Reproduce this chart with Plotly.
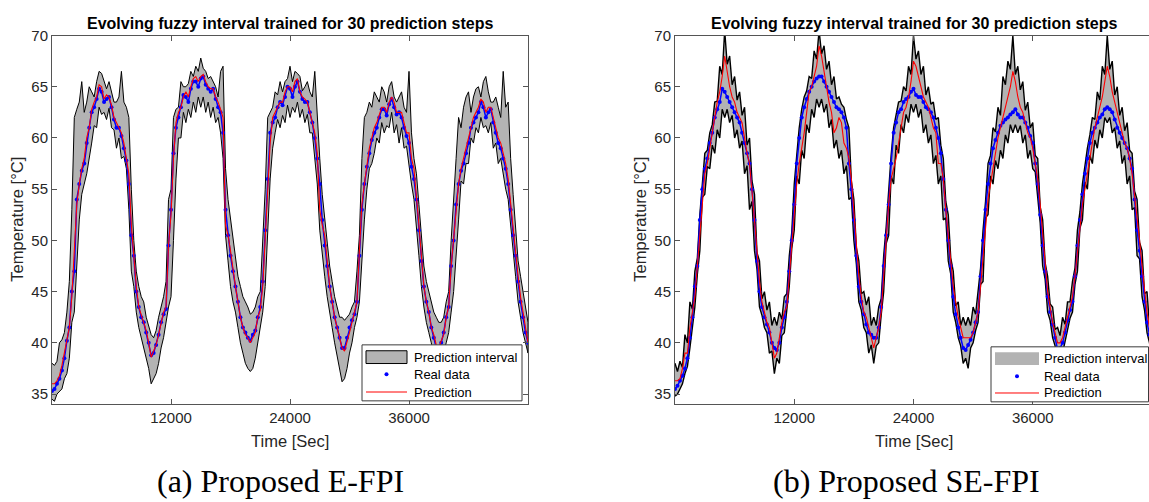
import plotly.graph_objects as go

# sample times [s], every 250 s
time_s = [0, 250, 500, 750, 1000, 1250, 1500, 1750, 2000, 2250, 2500, 2750, 3000, 3250, 3500, 3750,
          4000, 4250, 4500, 4750, 5000, 5250, 5500, 5750, 6000, 6250, 6500, 6750, 7000, 7250, 7500, 7750,
          8000, 8250, 8500, 8750, 9000, 9250, 9500, 9750, 10000, 10250, 10500, 10750, 11000, 11250, 11500,
          11750, 12000, 12250, 12500, 12750, 13000, 13250, 13500, 13750, 14000, 14250, 14500, 14750, 15000,
          15250, 15500, 15750, 16000, 16250, 16500, 16750, 17000, 17250, 17500, 17750, 18000, 18250, 18500,
          18750, 19000, 19250, 19500, 19750, 20000, 20250, 20500, 20750, 21000, 21250, 21500, 21750, 22000,
          22250, 22500, 22750, 23000, 23250, 23500, 23750, 24000, 24250, 24500, 24750, 25000, 25250, 25500,
          25750, 26000, 26250, 26500, 26750, 27000, 27250, 27500, 27750, 28000, 28250, 28500, 28750, 29000,
          29250, 29500, 29750, 30000, 30250, 30500, 30750, 31000, 31250, 31500, 31750, 32000, 32250, 32500,
          32750, 33000, 33250, 33500, 33750, 34000, 34250, 34500, 34750, 35000, 35250, 35500, 35750, 36000,
          36250, 36500, 36750, 37000, 37250, 37500, 37750, 38000, 38250, 38500, 38750, 39000, 39250, 39500,
          39750, 40000, 40250, 40500, 40750, 41000, 41250, 41500, 41750, 42000, 42250, 42500, 42750, 43000,
          43250, 43500, 43750, 44000, 44250, 44500, 44750, 45000, 45250, 45500, 45750, 46000, 46250, 46500,
          46750, 47000, 47250, 47500, 47750, 48000]

# ---------- (a) Proposed E-FPI ----------
real_a = [35.3, 35.5, 36.0, 36.5, 37.3, 38.5, 40.2, 41.5, 45.0, 47.0, 54.0, 55.5, 56.8, 57.5, 59.5, 61.0,
          62.5, 63.0, 63.8, 64.8, 64.5, 63.5, 63.8, 64.0, 63.0, 61.8, 61.0, 61.0, 60.2, 59.0, 57.8, 55.5,
          50.5, 48.5, 45.0, 43.5, 42.5, 42.0, 41.0, 40.0, 38.8, 39.0, 39.8, 40.8, 42.0, 42.8, 43.3,
          49.5, 53.0, 58.5, 61.0, 62.0, 63.0, 64.2, 64.0, 63.5, 64.8, 65.5, 65.5, 65.0, 65.8,
          66.0, 65.2, 64.8, 64.5, 64.8, 63.8, 63.0, 62.5, 60.5, 53.0, 50.5, 48.5, 47.0, 45.5,
          44.0, 42.5, 41.5, 41.0, 40.5, 40.2, 40.8, 41.2, 42.5, 43.5, 46.0, 51.0, 56.0, 60.5,
          61.5, 62.0, 63.0, 63.5, 63.2, 64.0, 65.0, 64.8, 64.0, 65.0, 65.5, 64.5, 63.8, 63.5,
          63.5, 62.5, 61.5, 60.0, 58.0, 55.5, 52.0, 49.5, 47.5, 45.5, 44.0, 42.5, 41.5, 40.5,
          39.5, 39.5, 40.5, 41.5, 42.2, 42.8, 44.0, 48.5, 53.0, 55.5, 57.2, 58.5, 59.8, 60.5,
          61.0, 62.0, 62.8, 62.8, 62.2, 63.3, 63.8, 63.0, 62.3, 62.5, 62.0, 61.0, 60.2, 59.5,
          57.2, 56.0, 54.0, 51.0, 48.0, 45.5, 44.0, 43.0, 41.5, 40.5, 39.5, 39.5, 40.0, 41.0,
          42.5, 43.5, 47.5, 50.0, 53.5, 55.5, 56.8, 57.5, 58.5, 59.5, 61.0, 61.5, 62.0, 62.5,
          63.5, 63.0, 62.0, 62.5, 62.8, 61.5, 60.5, 59.5, 59.0, 58.0, 57.0, 55.5, 53.0, 50.5,
          48.5, 46.0, 44.0, 42.5, 41.0, 40.0]
pred_a = [36.0, 36.0, 36.3, 36.8, 37.8, 39.0, 40.5, 41.5, 44.5, 48.5, 53.5, 55.5, 57.0, 58.0, 60.0, 61.0,
          62.8, 63.5, 64.0, 65.2, 65.0, 63.8, 64.2, 64.0, 63.2, 62.0, 61.5, 61.0, 60.5, 59.5, 58.0, 56.5,
          51.5, 48.5, 45.5, 43.5, 42.8, 42.0, 41.2, 40.0, 38.6, 39.2, 39.8, 40.8, 42.0, 43.0, 43.5,
          49.5, 52.5, 58.0, 61.5, 62.5, 63.0, 64.0, 64.5, 64.0, 65.0, 65.8, 66.0, 65.5, 66.0,
          66.2, 65.5, 65.0, 64.8, 64.8, 64.0, 63.5, 62.8, 62.0, 51.5, 50.5, 49.0, 47.0, 45.5,
          44.0, 42.5, 41.5, 40.8, 40.5, 40.0, 40.5, 41.0, 42.5, 43.2, 45.5, 50.5, 55.0, 59.5,
          62.0, 62.5, 63.0, 63.5, 63.5, 64.5, 65.0, 65.0, 64.5, 65.5, 65.8, 64.5, 64.0, 63.8,
          63.5, 62.5, 61.5, 60.5, 58.5, 53.0, 51.5, 50.5, 48.0, 45.5, 44.0, 42.5, 41.5, 40.5,
          39.5, 39.2, 40.0, 41.0, 42.0, 43.0, 44.0, 49.0, 53.5, 55.5, 57.5, 59.0, 60.0, 61.0,
          61.5, 62.3, 63.0, 63.0, 62.5, 63.5, 64.0, 63.5, 62.5, 62.5, 62.5, 61.5, 60.5, 60.5,
          58.0, 57.0, 54.5, 51.5, 48.5, 45.5, 44.0, 43.0, 41.5, 40.8, 39.8, 39.5, 40.2, 40.8,
          42.5, 43.5, 47.5, 50.0, 53.0, 55.5, 57.0, 58.0, 59.0, 60.0, 61.0, 62.0, 62.5, 63.0,
          63.8, 63.5, 62.5, 63.0, 63.0, 62.0, 61.0, 60.0, 59.5, 58.5, 57.5, 56.0, 53.5, 51.0,
          49.0, 46.5, 44.5, 43.0, 41.5, 40.0]
upper_a = [38.0, 37.8, 38.2, 40.0, 40.3, 41.0, 43.0, 46.0, 53.0, 62.0, 62.8, 63.5, 65.5, 62.5, 63.5, 65.0,
           64.5, 64.0, 65.5, 66.5, 66.3, 65.5, 64.8, 65.5, 64.5, 63.5, 63.5, 64.0, 66.5, 63.5, 63.0, 62.0,
           55.0, 50.0, 47.0, 45.5, 44.5, 44.0, 42.5, 41.5, 40.8, 40.5, 41.2, 42.5, 43.5, 44.5, 46.0,
           54.0, 55.0, 62.0, 62.8, 63.0, 65.5, 65.0, 65.0, 65.3, 66.5, 66.0, 67.0, 66.5, 67.8,
           66.8, 66.5, 65.8, 66.0, 65.5, 65.0, 64.0, 66.5, 67.0, 57.0, 54.0, 52.0, 50.0, 48.0,
           46.5, 45.5, 44.5, 44.0, 43.5, 42.8, 43.0, 43.5, 44.5, 45.0, 50.0, 55.0, 62.0, 62.5,
           63.0, 64.5, 64.2, 65.5, 64.5, 65.5, 65.8, 67.0, 65.5, 66.5, 66.3, 66.0, 64.6, 65.0,
           65.5, 64.5, 64.0, 66.5, 62.0, 58.0, 54.5, 52.0, 49.5, 47.5, 46.0, 44.5, 43.5, 42.5,
           42.5, 42.2, 42.5, 42.8, 43.5, 44.0, 47.0, 50.5, 58.0, 62.0, 62.5, 63.5, 63.0, 64.5,
           64.0, 63.5, 65.0, 64.5, 63.5, 65.0, 65.5, 64.0, 63.5, 64.0, 64.5, 63.0, 62.5, 66.5,
           60.5, 58.0, 56.5, 53.5, 50.0, 47.5, 46.0, 45.0, 44.0, 43.0, 42.5, 42.0, 42.0, 42.5,
           44.0, 45.0, 50.0, 54.5, 58.0, 62.0, 61.0, 63.0, 64.0, 64.5, 62.5, 64.0, 64.8, 65.0,
           64.0, 65.5, 66.0, 64.5, 63.5, 63.5, 64.0, 63.0, 62.0, 66.5, 63.0, 63.5, 58.0, 54.5,
           51.0, 48.0, 46.5, 45.0, 43.5, 42.0]
lower_a = [34.5, 34.3, 35.0, 35.2, 35.5, 36.5, 37.0, 38.5, 42.0, 43.0, 47.5, 52.0, 54.5, 55.5, 56.5, 58.0,
           59.5, 61.2, 61.0, 63.0, 62.3, 62.5, 61.8, 62.9, 61.0, 60.8, 59.0, 60.0, 58.0, 58.2, 57.0, 53.0,
           47.0, 45.5, 43.0, 41.5, 40.5, 39.5, 38.5, 37.5, 36.0, 36.5, 37.0, 38.0, 39.5, 40.5, 42.0,
           43.5, 44.5, 50.0, 56.0, 60.0, 60.0, 62.5, 61.5, 62.8, 62.0, 63.5, 62.5, 64.0, 63.0,
           64.0, 62.5, 63.5, 62.0, 63.0, 61.5, 62.0, 60.5, 58.0, 50.5, 48.0, 45.5, 44.0, 43.0,
           41.5, 40.0, 39.0, 38.0, 37.5, 37.2, 37.5, 38.5, 40.0, 41.5, 43.0, 45.5, 51.0, 56.0,
           59.0, 60.5, 61.8, 61.0, 62.2, 61.5, 63.2, 62.0, 63.0, 62.5, 63.5, 62.0, 62.8, 61.5,
           62.3, 60.5, 60.5, 58.0, 55.5, 51.0, 48.5, 46.5, 44.5, 43.0, 41.5, 40.0, 38.5, 37.5,
           36.2, 36.5, 37.5, 39.0, 40.0, 41.5, 42.5, 44.0, 48.0, 52.0, 55.0, 57.0, 57.5, 58.5,
           60.0, 59.5, 61.5, 60.5, 61.2, 61.0, 62.5, 60.5, 61.3, 59.5, 61.0, 59.0, 59.2, 57.5,
           55.5, 54.0, 51.5, 48.5, 45.5, 43.5, 42.0, 41.0, 40.0, 38.5, 38.0, 38.0, 38.2, 39.0,
           40.0, 41.0, 43.0, 45.0, 48.5, 52.0, 55.8, 55.5, 57.5, 57.5, 60.0, 59.5, 61.0, 60.5,
           62.0, 61.0, 61.2, 60.5, 61.5, 59.0, 59.5, 57.5, 58.0, 56.5, 55.0, 54.0, 51.5, 49.0,
           46.5, 44.0, 42.5, 41.0, 40.0, 39.0]

# ---------- (b) Proposed SE-FPI ----------
real_b = [35.5, 35.8, 36.3, 36.8, 37.5, 38.5, 40.5, 42.5, 45.5, 47.5, 52.0, 55.0, 57.0, 58.0, 59.5, 60.5,
          62.0, 62.8, 63.5, 64.8, 64.5, 64.0, 63.5, 63.0, 62.5, 62.0, 61.5, 60.5, 59.5, 58.5, 57.5, 55.0,
          52.0, 48.0, 45.0, 43.5, 42.5, 41.8, 41.0, 40.0, 39.5, 39.3, 40.0, 41.5, 42.5, 44.0, 47.0,
          50.0, 53.5, 57.5, 60.0, 62.0, 63.0, 63.8, 64.5, 65.0, 65.5, 65.8, 66.0, 66.0, 65.5,
          65.0, 64.5, 64.0, 63.5, 63.0, 62.8, 62.5, 62.0, 61.0, 57.5, 55.0, 52.0, 48.5, 45.5,
          44.0, 42.8, 41.8, 41.0, 40.8, 40.5, 40.5, 41.5, 43.5, 47.5, 50.5, 53.5, 57.5, 60.5,
          61.5, 62.5, 62.8, 63.5, 63.8, 64.0, 64.5, 64.8, 64.2, 64.0, 64.0, 63.5, 63.0, 62.8,
          62.5, 62.0, 61.0, 60.0, 58.5, 56.0, 53.0, 50.0, 47.5, 44.5, 42.8, 41.5, 40.5, 39.5,
          39.3, 39.8, 40.3, 41.0, 42.0, 43.0, 46.5, 50.0, 53.0, 55.5, 57.5, 59.0, 59.8, 60.5,
          61.2, 61.5, 61.8, 62.0, 62.3, 62.5, 62.8, 62.3, 62.0, 62.0, 61.5, 61.0, 60.2, 59.5,
          57.5, 55.5, 52.5, 49.5, 47.0, 44.5, 43.0, 41.8, 40.5, 39.3, 39.5, 40.0, 41.0, 42.2,
          43.2, 44.0, 46.5, 49.5, 52.0, 54.5, 56.5, 58.0, 59.5, 60.5, 61.0, 61.5, 62.0, 62.3,
          62.8, 63.0, 62.8, 62.5, 61.8, 61.0, 60.5, 60.0, 59.5, 59.0, 58.0, 57.0, 54.0, 51.0,
          49.0, 46.5, 44.0, 42.0, 40.8, 39.5]
pred_b = [36.3, 36.3, 36.5, 37.5, 39.0, 39.0, 41.5, 43.0, 44.5, 47.5, 50.5, 53.5, 56.5, 57.5, 59.0, 60.5,
          62.0, 63.5, 64.5, 66.0, 68.0, 66.5, 65.0, 64.0, 63.5, 62.5, 62.0, 61.5, 60.0, 58.5, 57.5, 55.0,
          52.0, 49.0, 46.0, 44.0, 43.0, 42.0, 41.5, 40.0, 38.5, 39.0, 40.5, 42.0, 43.0, 43.5, 46.5,
          49.5, 53.0, 55.5, 57.5, 59.0, 60.5, 62.5, 64.5, 65.0, 66.0, 67.0, 69.0, 68.0, 66.5,
          65.0, 63.5, 62.5, 60.5, 61.0, 62.0, 61.5, 59.5, 59.0, 58.0, 56.0, 53.0, 49.5, 46.5,
          44.5, 43.0, 42.5, 41.5, 40.5, 39.5, 40.5, 41.5, 43.0, 47.0, 50.0, 53.5, 56.0, 57.0,
          58.0, 59.5, 61.0, 62.5, 63.0, 64.0, 65.5, 67.5, 67.0, 66.0, 65.0, 64.0, 63.5, 63.0,
          62.0, 61.0, 60.5, 57.5, 57.5, 56.0, 53.0, 50.5, 48.0, 45.5, 44.0, 42.5, 41.5, 40.5,
          40.5, 40.5, 40.5, 41.0, 42.0, 43.0, 45.5, 48.5, 51.5, 54.0, 55.5, 57.0, 58.5, 60.0,
          61.0, 62.0, 63.0, 64.0, 65.0, 66.5, 65.5, 64.0, 63.0, 62.5, 61.5, 60.5, 60.0, 59.0,
          57.5, 56.0, 53.5, 50.5, 47.5, 45.0, 43.5, 42.0, 41.0, 40.0, 40.0, 40.5, 41.5, 42.5,
          43.5, 44.5, 46.5, 49.0, 51.0, 53.5, 55.0, 56.5, 58.0, 59.5, 61.0, 62.0, 63.0, 64.0,
          65.5, 67.0, 66.0, 64.5, 63.5, 62.5, 61.5, 60.5, 59.5, 59.0, 58.0, 56.5, 54.5, 52.0,
          50.0, 47.5, 45.0, 43.0, 41.5, 40.5]
upper_b = [38.0, 37.2, 38.2, 37.6, 40.8, 40.0, 44.0, 43.3, 47.0, 48.3, 52.5, 55.8, 58.5, 58.8, 60.5, 61.3,
           63.5, 63.6, 67.0, 66.2, 70.5, 67.2, 68.0, 65.2, 66.0, 63.7, 64.5, 62.2, 63.0, 59.3, 60.0, 55.8,
           54.5, 48.8, 48.0, 44.3, 45.0, 43.2, 44.0, 41.7, 42.5, 41.7, 43.0, 42.3, 44.5, 44.8, 48.5,
           50.8, 55.5, 58.3, 61.0, 62.8, 64.0, 64.6, 66.0, 65.8, 68.5, 67.7, 70.5, 68.2, 69.0,
           66.7, 67.5, 65.2, 66.0, 63.8, 64.0, 63.3, 63.0, 61.8, 61.0, 55.8, 54.0, 49.3, 48.0,
           44.8, 45.0, 43.7, 44.5, 41.7, 42.5, 41.7, 43.5, 44.3, 48.5, 51.3, 55.0, 58.3, 61.0,
           62.3, 63.5, 63.6, 65.0, 64.6, 67.0, 66.2, 70.0, 67.7, 68.5, 66.2, 67.0, 64.2, 65.0,
           63.3, 63.5, 61.8, 62.0, 59.3, 58.0, 53.8, 52.5, 48.3, 47.0, 43.6, 44.0, 41.7, 42.5,
           41.7, 42.5, 41.7, 43.5, 42.8, 45.0, 47.3, 51.0, 53.8, 57.5, 58.3, 61.0, 60.6, 63.0,
           62.2, 66.0, 65.2, 67.5, 66.7, 70.0, 66.2, 67.0, 64.7, 65.5, 62.7, 63.5, 61.0, 61.5,
           58.3, 58.0, 53.3, 52.0, 47.8, 46.5, 43.8, 43.5, 41.3, 41.5, 40.7, 42.5, 41.8, 44.0,
           44.0, 46.0, 47.3, 51.0, 52.8, 55.5, 57.3, 59.0, 60.3, 62.0, 61.8, 64.5, 63.7, 67.0,
           66.2, 70.0, 66.7, 67.5, 64.2, 65.0, 62.2, 63.0, 60.7, 61.5, 58.8, 58.5, 54.8, 54.0,
           49.8, 49.0, 44.8, 45.0, 41.7, 42.5]
lower_b = [34.8, 35.0, 35.5, 36.0, 37.0, 37.7, 39.5, 41.7, 43.5, 46.7, 49.0, 54.2, 54.5, 57.2, 57.0, 59.3,
           58.5, 60.8, 60.0, 62.8, 62.0, 62.8, 61.5, 62.2, 60.0, 60.8, 59.0, 59.7, 56.5, 57.3, 53.0, 53.8,
           49.0, 47.2, 43.5, 42.7, 41.5, 41.0, 39.0, 39.2, 37.0, 38.5, 38.0, 40.7, 41.0, 43.2, 45.5,
           49.2, 51.0, 56.3, 55.5, 58.8, 58.0, 61.3, 60.5, 62.8, 62.0, 63.8, 63.0, 63.8, 62.5,
           63.3, 61.0, 61.8, 59.0, 59.8, 58.0, 58.8, 56.5, 57.3, 54.0, 54.2, 50.0, 47.7, 44.0,
           43.2, 41.5, 41.0, 39.0, 39.8, 38.0, 39.7, 40.0, 42.7, 45.0, 49.7, 50.5, 56.3, 55.5,
           59.3, 58.5, 61.3, 60.5, 62.3, 61.5, 63.3, 62.5, 63.3, 62.0, 62.8, 60.5, 61.3, 59.5,
           60.3, 57.5, 58.3, 55.5, 56.3, 52.0, 52.2, 48.0, 46.7, 43.0, 42.0, 40.5, 39.7, 38.0,
           38.5, 37.5, 39.5, 40.0, 41.2, 42.0, 45.7, 46.0, 52.2, 52.5, 56.3, 55.5, 57.8, 57.0,
           58.8, 58.0, 60.3, 59.5, 61.3, 60.5, 61.3, 60.5, 61.2, 59.5, 60.3, 58.0, 58.8, 57.0,
           56.7, 54.0, 51.7, 47.5, 46.2, 43.0, 42.2, 40.5, 39.7, 38.5, 38.7, 39.0, 40.2, 41.5,
           42.4, 43.0, 45.7, 47.0, 51.2, 52.0, 55.7, 55.0, 58.3, 57.5, 59.8, 59.0, 60.8, 60.0,
           62.0, 61.5, 62.0, 60.5, 61.0, 59.0, 59.7, 57.5, 58.3, 55.5, 56.3, 53.0, 53.2, 48.5,
           48.2, 44.5, 43.2, 41.0, 40.0, 38.5]

for _name, _arr in [("real_a", real_a), ("pred_a", pred_a), ("upper_a", upper_a), ("lower_a", lower_a),
                    ("real_b", real_b), ("pred_b", pred_b), ("upper_b", upper_b), ("lower_b", lower_b)]:
    assert len(_arr) == len(time_s), (_name, len(_arr), len(time_s))

y_ticks = [35, 40, 45, 50, 55, 60, 65, 70]
x_ticks = [12000, 24000, 36000]
x_tick_text = ["12000", "24000", "36000"]
title_text = "Evolving fuzzy interval trained for 30 prediction steps"
captions = ["(a) Proposed E-FPI", "(b) Proposed SE-FPI"]
legend_names = ["Prediction interval", "Real data", "Prediction"]

W, H = 1149, 502
def px(x):
    return x / W
def py(y):
    return 1 - y / H

BAND = "#b3b3b3"
SANS = "Liberation Sans, Arial, sans-serif"
AXC = "#262626"

fig = go.Figure()

# ---- panel a ----
fig.add_trace(go.Scatter(x=time_s + time_s[::-1], y=upper_a + lower_a[::-1], fill="toself",
                         fillcolor=BAND, mode="lines", line=dict(color="black", width=1),
                         name=legend_names[0], xaxis="x", yaxis="y", showlegend=False))
fig.add_trace(go.Scatter(x=time_s, y=real_a, mode="lines+markers", marker=dict(color="blue", size=4),
                         line=dict(color="blue", width=1.5),
                         name=legend_names[1], xaxis="x", yaxis="y", showlegend=False))
fig.add_trace(go.Scatter(x=time_s, y=pred_a, mode="lines", line=dict(color="red", width=1.1),
                         name=legend_names[2], xaxis="x", yaxis="y", showlegend=False))

# ---- panel b ----
fig.add_trace(go.Scatter(x=time_s + time_s[::-1], y=upper_b + lower_b[::-1], fill="toself",
                         fillcolor=BAND, mode="lines", line=dict(color=BAND, width=0),
                         name=legend_names[0], xaxis="x2", yaxis="y2", showlegend=False))
fig.add_trace(go.Scatter(x=time_s, y=upper_b, mode="lines", line=dict(color="black", width=1.4),
                         showlegend=False, xaxis="x2", yaxis="y2"))
fig.add_trace(go.Scatter(x=time_s, y=lower_b, mode="lines", line=dict(color="black", width=1.4),
                         showlegend=False, xaxis="x2", yaxis="y2"))
fig.add_trace(go.Scatter(x=time_s, y=real_b, mode="lines+markers", marker=dict(color="blue", size=4),
                         line=dict(color="blue", width=1.5),
                         name=legend_names[1], xaxis="x2", yaxis="y2", showlegend=False))
fig.add_trace(go.Scatter(x=time_s, y=pred_b, mode="lines", line=dict(color="red", width=1.1),
                         name=legend_names[2], xaxis="x2", yaxis="y2", showlegend=False))

ax_common = dict(showgrid=False, zeroline=False, showline=True, linecolor="#555555", linewidth=1,
                 ticks="inside", ticklen=5, tickcolor="#555555",
                 tickfont=dict(family=SANS, size=15, color=AXC))

ydom = [py(402), py(27)]
fig.update_layout(
    width=W, height=H, margin=dict(l=0, r=0, t=0, b=0),
    paper_bgcolor="white", plot_bgcolor="white", showlegend=False,
    xaxis=dict(domain=[px(52), px(528)], range=[0, 48000], tickvals=x_ticks, ticktext=x_tick_text,
               anchor="y", mirror="ticks", **ax_common),
    yaxis=dict(domain=ydom, range=[34.05, 70], tickvals=y_ticks, anchor="x", mirror="ticks", **ax_common),
    xaxis2=dict(domain=[px(675), 1.0], range=[0, 47700], tickvals=x_ticks, ticktext=x_tick_text,
                anchor="y2", mirror="ticks", **ax_common),
    yaxis2=dict(domain=ydom, range=[34.05, 70], tickvals=y_ticks, anchor="x2", mirror=False, **ax_common),
)

shapes = []
ann = []

def add_legend(x0, x1, y0, y1, icon_x0, icon_x1, text_x, rows, patch_border):
    shapes.append(dict(type="rect", xref="paper", yref="paper", layer="above",
                       x0=px(x0), x1=px(x1), y0=py(y1), y1=py(y0),
                       fillcolor="white", line=dict(color="#3a3a3a", width=1)))
    r0, r1, r2 = rows
    shapes.append(dict(type="rect", xref="paper", yref="paper", layer="above",
                       x0=px(icon_x0), x1=px(icon_x1), y0=py(r0 + 6.5), y1=py(r0 - 6.5),
                       fillcolor=BAND,
                       line=dict(color="black" if patch_border else BAND, width=1 if patch_border else 0)))
    cx = (icon_x0 + icon_x1) / 2
    shapes.append(dict(type="circle", xref="paper", yref="paper", layer="above",
                       x0=px(cx - 2), x1=px(cx + 2), y0=py(r1 + 2), y1=py(r1 - 2),
                       fillcolor="blue", line=dict(color="blue", width=0)))
    shapes.append(dict(type="line", xref="paper", yref="paper", layer="above",
                       x0=px(icon_x0), x1=px(icon_x1), y0=py(r2), y1=py(r2),
                       line=dict(color="#ff0000", width=1)))
    for name, ry in zip(legend_names, rows):
        ann.append(dict(x=px(text_x), y=py(ry), xref="paper", yref="paper", text=name,
                        showarrow=False, xanchor="left", yanchor="middle",
                        font=dict(family=SANS, size=13, color="black")))

add_legend(362, 522, 342, 399, 366, 407, 412, (354.5, 372, 390), True)
add_legend(991, 1148.5, 344, 400, 995, 1039, 1042, (356, 374, 391), False)

for cx, ylx, capx, cap in [(290, 17, 280, captions[0]), (914, 640, 906, captions[1])]:
    ann.append(dict(x=px(cx), y=py(15), xref="paper", yref="paper", text="<b>" + title_text + "</b>",
                    showarrow=False, xanchor="center", yanchor="middle",
                    font=dict(family=SANS, size=16, color="black")))
    ann.append(dict(x=px(cx), y=py(440), xref="paper", yref="paper", text="Time [Sec]",
                    showarrow=False, xanchor="center", yanchor="middle",
                    font=dict(family=SANS, size=16.5, color=AXC)))
    ann.append(dict(x=px(ylx), y=py(214.5), xref="paper", yref="paper", text="Temperature [°C]",
                    textangle=-90, showarrow=False, xanchor="center", yanchor="middle",
                    font=dict(family=SANS, size=16.5, color=AXC)))
    ann.append(dict(x=px(capx), y=py(481), xref="paper", yref="paper", text=cap,
                    showarrow=False, xanchor="center", yanchor="middle",
                    font=dict(family="Liberation Serif, DejaVu Serif, serif", size=32, color="black")))

fig.update_layout(shapes=shapes, annotations=ann)

fig.write_html("out.html")
